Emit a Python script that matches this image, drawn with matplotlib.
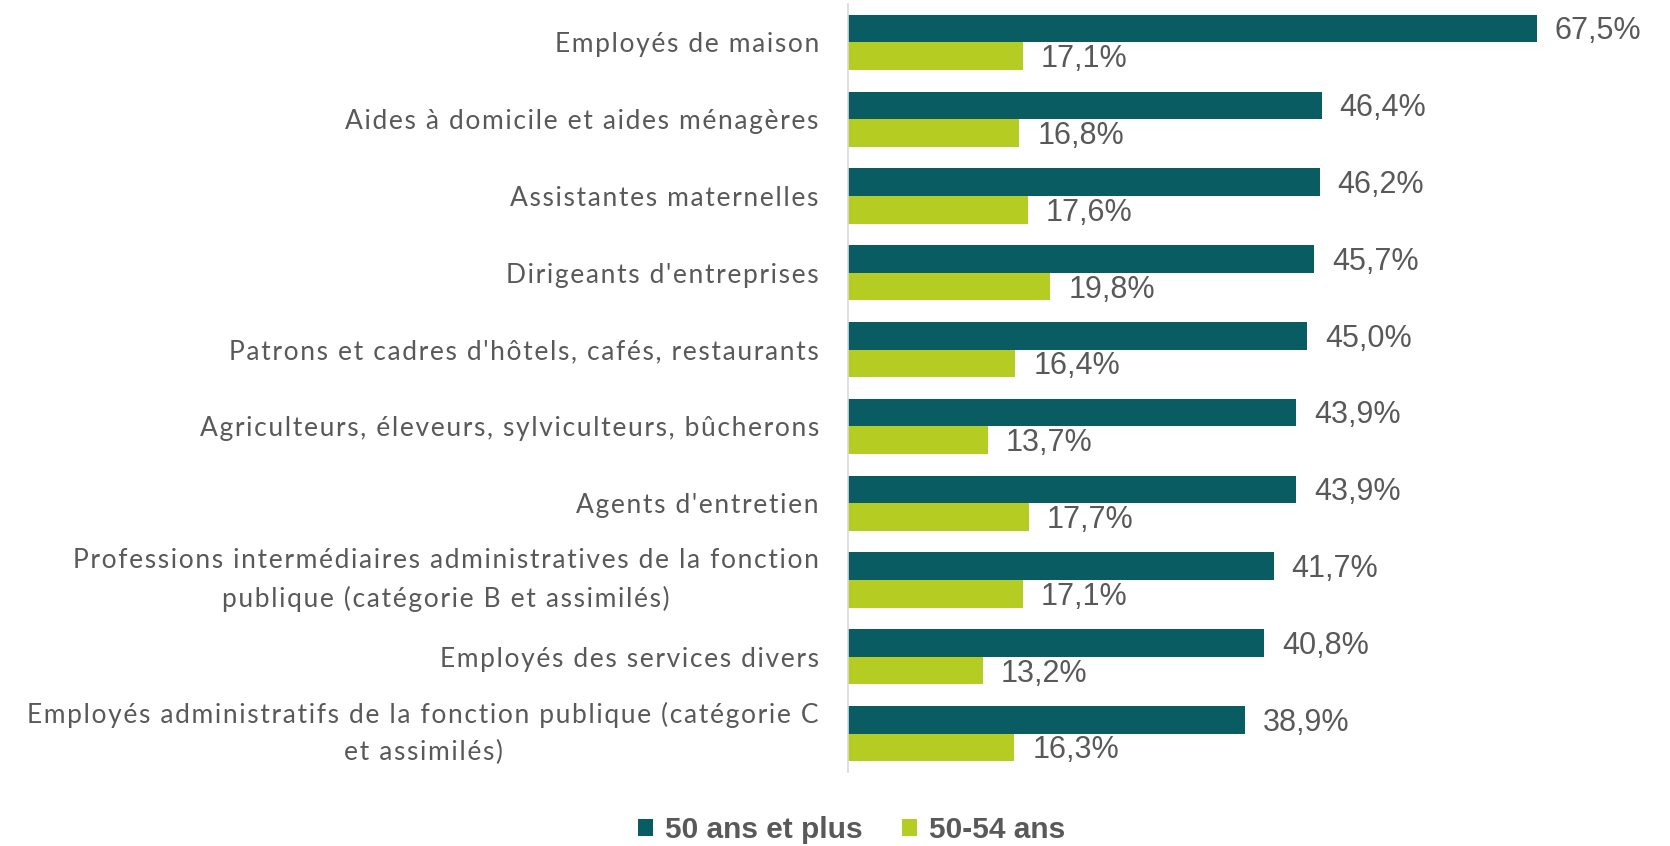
import matplotlib
matplotlib.use("Agg")
import matplotlib.pyplot as plt
import numpy as np

categories = [
    "Employés de maison",
    "Aides à domicile et aides ménagères",
    "Assistantes maternelles",
    "Dirigeants d'entreprises",
    "Patrons et cadres d'hôtels, cafés, restaurants",
    "Agriculteurs, éleveurs, sylviculteurs, bûcherons",
    "Agents d'entretien",
    "Professions intermédiaires administratives de la fonction\npublique (catégorie B et assimilés)",
    "Employés des services divers",
    "Employés administratifs de la fonction publique (catégorie C\net assimilés)",
]
series_names = ["50 ans et plus", "50-54 ans"]
values_50plus = [67.5, 46.4, 46.2, 45.7, 45.0, 43.9, 43.9, 41.7, 40.8, 38.9]
values_50_54 = [17.1, 16.8, 17.6, 19.8, 16.4, 13.7, 17.7, 17.1, 13.2, 16.3]

DARK = "#0A5C63"
LIGHT = "#B5CC22"
TEXT = "#595959"

plt.rcParams['font.family'] = ['Lato', 'DejaVu Sans']


def tracked(s, sep="\u200A"):
    # emulate the slightly wide letter spacing of the original labels
    return "\n".join(sep.join(line) for line in s.split("\n"))


fig = plt.figure(figsize=(16.7, 8.46), dpi=100)
ax = fig.add_axes([0.5078, 0.0875, 0.44, 0.9078])

n = len(categories)
y = np.arange(n)
h = 0.36
b1 = ax.barh(y - h / 2, values_50plus, height=h, color=DARK, label=series_names[0])
b2 = ax.barh(y + h / 2, values_50_54, height=h, color=LIGHT, label=series_names[1])

val_fs = 22
for bars, vals in ((b1, values_50plus), (b2, values_50_54)):
    for rect, v in zip(bars, vals):
        ax.annotate(f"{v:.1f}%".replace(".", ","),
                    xy=(rect.get_width(), rect.get_y() + rect.get_height() / 2),
                    xytext=(13, -0.716 * val_fs / 2), textcoords="offset points",
                    ha="left", va="baseline", fontsize=val_fs, color=TEXT,
                    family=["Liberation Sans", "DejaVu Sans"])

ax.set_ylim(n - 0.5, -0.5)
ax.set_xlim(0, 72)
ax.set_yticks(y)
ax.set_yticklabels([tracked(c) for c in categories], fontsize=19, color=TEXT,
                   linespacing=1.62, multialignment="center")
for lbl, c in zip(ax.get_yticklabels(), categories):
    if "\n" in c:
        lbl.set_va("center")
ax.tick_params(axis="y", length=0, pad=21)
ax.set_xticks([])
for s in ("top", "right", "bottom"):
    ax.spines[s].set_visible(False)
ax.spines["left"].set_color("#D9D9D9")
ax.spines["left"].set_linewidth(1.2)

leg = fig.legend(handles=[b1, b2], labels=series_names, loc="center",
                 bbox_to_anchor=(0.510, 0.019), ncol=2, frameon=False,
                 prop={"size": 21.5, "weight": "bold", "family": ["Liberation Sans", "DejaVu Sans"]},
                 handlelength=0.5, handleheight=0.5, handletextpad=0.4,
                 columnspacing=1.3, borderpad=0, borderaxespad=0)
for t in leg.get_texts():
    t.set_color(TEXT)

fig.savefig("out.png", dpi=100)
